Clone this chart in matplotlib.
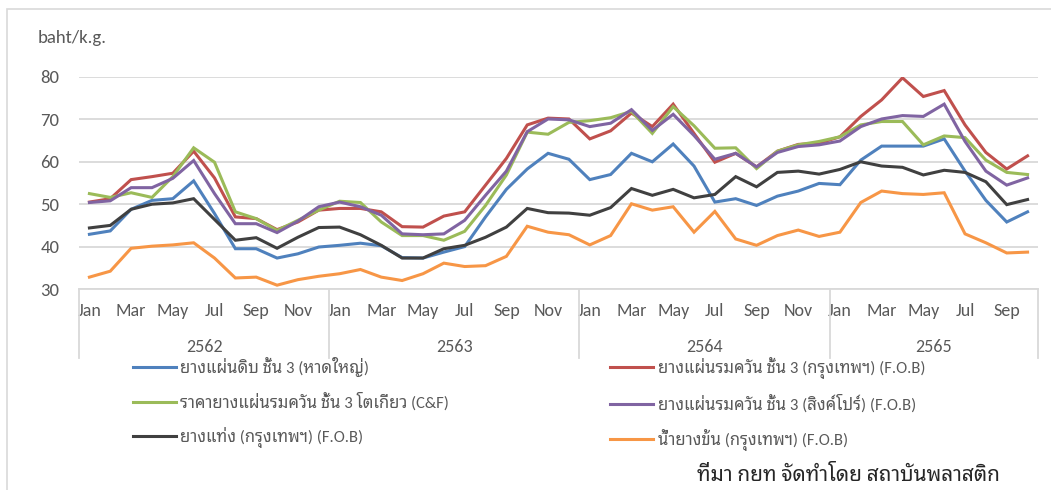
import matplotlib
matplotlib.use("Agg")
import matplotlib.pyplot as plt
from matplotlib.patches import Rectangle

plt.rcParams['font.family'] = ['Carlito', 'Noto Sans Thai Looped', 'DejaVu Sans']

# ---- data ----
years = ['2562', '2563', '2564', '2565']
months_per_year = [12, 12, 12, 10]
month_names = ['Jan', 'Feb', 'Mar', 'Apr', 'May', 'Jun',
               'Jul', 'Aug', 'Sep', 'Oct', 'Nov', 'Dec']

rss3_hatyai = [42.9, 43.7, 48.8, 50.9, 51.3, 55.5, 47.8, 39.5, 39.5, 37.3, 38.3, 39.9,
               40.3, 40.8, 40.2, 37.4, 37.3, 38.7, 40.0, 47.0, 53.5, 58.3, 62.0, 60.6,
               55.8, 57.0, 62.0, 60.0, 64.2, 59.0, 50.5, 51.3, 49.7, 51.9, 53.1, 54.9,
               54.6, 60.4, 63.7, 63.7, 63.7, 65.4, 57.8, 50.9, 45.8, 48.2]
rss3_bangkok = [50.5, 51.3, 55.8, 56.5, 57.3, 62.5, 56.2, 47.0, 46.6, 44.0, 45.8, 48.6,
                49.0, 49.0, 48.2, 44.7, 44.6, 47.2, 48.2, 54.5, 60.8, 68.7, 70.3, 70.1,
                65.4, 67.3, 71.5, 68.3, 73.6, 66.7, 59.9, 62.0, 58.8, 62.5, 64.1, 64.4,
                65.9, 70.7, 74.6, 79.8, 75.4, 76.8, 68.7, 62.2, 58.3, 61.4]
rss3_tokyo = [52.5, 51.6, 52.7, 51.6, 56.5, 63.3, 59.9, 48.2, 46.6, 43.8, 46.2, 48.6,
              50.7, 50.4, 45.8, 42.6, 42.6, 41.5, 43.6, 49.7, 56.9, 67.0, 66.5, 69.3,
              69.7, 70.4, 71.9, 66.7, 73.0, 68.5, 63.2, 63.3, 58.4, 62.5, 64.0, 64.8,
              65.9, 68.7, 69.5, 69.5, 64.0, 66.1, 65.7, 60.4, 57.5, 57.0]
rss3_singapore = [50.4, 50.8, 53.9, 53.9, 56.1, 60.3, 52.5, 45.4, 45.4, 43.3, 46.0, 49.4,
                  50.5, 49.4, 47.4, 43.0, 42.8, 43.0, 46.2, 52.1, 57.8, 67.1, 70.1, 69.9,
                  68.3, 69.1, 72.3, 67.4, 71.2, 66.2, 60.6, 62.0, 58.8, 62.2, 63.6, 64.0,
                  64.9, 68.3, 70.1, 70.9, 70.7, 73.6, 64.8, 57.8, 54.5, 56.2]
block_bangkok = [44.4, 45.0, 48.8, 50.0, 50.3, 51.3, 46.4, 41.5, 42.1, 39.6, 42.2, 44.5,
                 44.6, 42.8, 40.3, 37.3, 37.3, 39.5, 40.3, 42.2, 44.6, 49.0, 48.0, 47.9,
                 47.4, 49.2, 53.7, 52.1, 53.5, 51.5, 52.3, 56.5, 54.1, 57.5, 57.8, 57.1,
                 58.2, 60.0, 59.0, 58.7, 56.9, 58.0, 57.5, 55.3, 49.9, 51.1]
latex_bangkok = [32.8, 34.2, 39.6, 40.1, 40.4, 40.9, 37.3, 32.6, 32.8, 30.9, 32.2, 33.0,
                 33.6, 34.6, 32.8, 32.0, 33.6, 36.1, 35.3, 35.5, 37.7, 44.8, 43.4, 42.8,
                 40.4, 42.6, 50.1, 48.6, 49.4, 43.4, 48.3, 41.8, 40.3, 42.6, 43.9, 42.4,
                 43.4, 50.4, 53.1, 52.5, 52.3, 52.7, 43.0, 40.9, 38.5, 38.7]

labels = ['ยางแผ่นดิบ ชั้น 3 (หาดใหญ่)',
          'ยางแผ่นรมควัน ชั้น 3 (กรุงเทพฯ) (F.O.B)',
          'ราคายางแผ่นรมควัน ชั้น 3 โตเกียว (C&F)',
          'ยางแผ่นรมควัน ชั้น 3 (สิงค์โปร์) (F.O.B)',
          'ยางแท่ง (กรุงเทพฯ) (F.O.B)',
          'น้ำยางข้น (กรุงเทพฯ) (F.O.B)']
series = [rss3_hatyai, rss3_bangkok, rss3_tokyo, rss3_singapore, block_bangkok, latex_bangkok]
colors = ['#4F81BD', '#C0504D', '#9BBB59', '#8064A2', '#404040', '#F79646']

# ---- figure ----
W, H = 1051, 490
fig = plt.figure(figsize=(W / 100, H / 100), dpi=100)
fig.patches.append(Rectangle((7 / W, -0.05), 1.1, 1 - 9 / H + 0.05,
                             transform=fig.transFigure, fill=False,
                             edgecolor='#D9D9D9', lw=1.2))

ax_l, ax_r, ax_t, ax_b = 79, 1038, 77, 289
ax = fig.add_axes([ax_l / W, 1 - ax_b / H, (ax_r - ax_l) / W, (ax_b - ax_t) / H])

n = sum(months_per_year)
x = list(range(n))
lines = []
for vals, lab, c in zip(series, labels, colors):
    ln, = ax.plot(x, vals, color=c, lw=2.2, label=lab, solid_joinstyle='miter')
    lines.append(ln)

ax.set_xlim(-0.5, n - 0.5)
ax.set_ylim(30, 80)
ax.set_yticks(range(30, 81, 10))
ax.grid(axis='y', color='#D9D9D9', lw=1.3)
ax.set_axisbelow(True)
for s in ['top', 'right', 'left']:
    ax.spines[s].set_visible(False)
ax.spines['bottom'].set_color('#D9D9D9')
ax.spines['bottom'].set_linewidth(1.3)
ax.tick_params(axis='y', length=0, labelsize=13.5, labelcolor='#595959', pad=14)

# month labels (every other month) and year groups
month_list = [m for cnt in months_per_year for m in month_names[:cnt]]
ax.set_xticks(x[::2])
ax.set_xticklabels(month_list[::2])
ax.tick_params(axis='x', length=0, labelsize=13, labelcolor='#595959', pad=10)

trans = ax.get_xaxis_transform()
start = 0
bounds = [-0.5]
for yr, cnt in zip(years, months_per_year):
    ax.text(start + (cnt - 1) / 2, -0.272, yr, transform=trans, ha='center',
            va='center', fontsize=13, color='#595959')
    start += cnt
    bounds.append(start - 0.5)
for b in bounds:
    ax.plot([b, b], [0, -0.325], transform=trans, color='#D9D9D9', lw=1.3,
            clip_on=False)

# y unit label
fig.text(38 / W, 1 - 38 / H, 'baht/k.g.', fontsize=13.5, color='#595959',
         ha='left', va='center')

# legend: two columns placed separately
leg_kw = dict(frameon=False, fontsize=12, handlelength=2.6, handletextpad=0.25,
              labelspacing=0.95, borderaxespad=0, borderpad=0)
leg1 = fig.legend([lines[0], lines[2], lines[4]], [labels[0], labels[2], labels[4]],
                  loc='upper left', bbox_to_anchor=(133 / W, 1 - 357 / H), **leg_kw)
for t in leg1.get_texts():
    t.set_color('#595959')
leg2 = fig.legend([lines[1], lines[3], lines[5]], [labels[1], labels[3], labels[5]],
                  loc='upper left', bbox_to_anchor=(610 / W, 1 - 357 / H), **leg_kw)
for t in leg2.get_texts():
    t.set_color('#595959')

# source note
fig.text(1000 / W, 1 - 474 / H, 'ที่มา กยท จัดทำโดย สถาบันพลาสติก', fontsize=15,
         color='#262626', ha='right', va='center')

fig.savefig('out.png', dpi=100)
